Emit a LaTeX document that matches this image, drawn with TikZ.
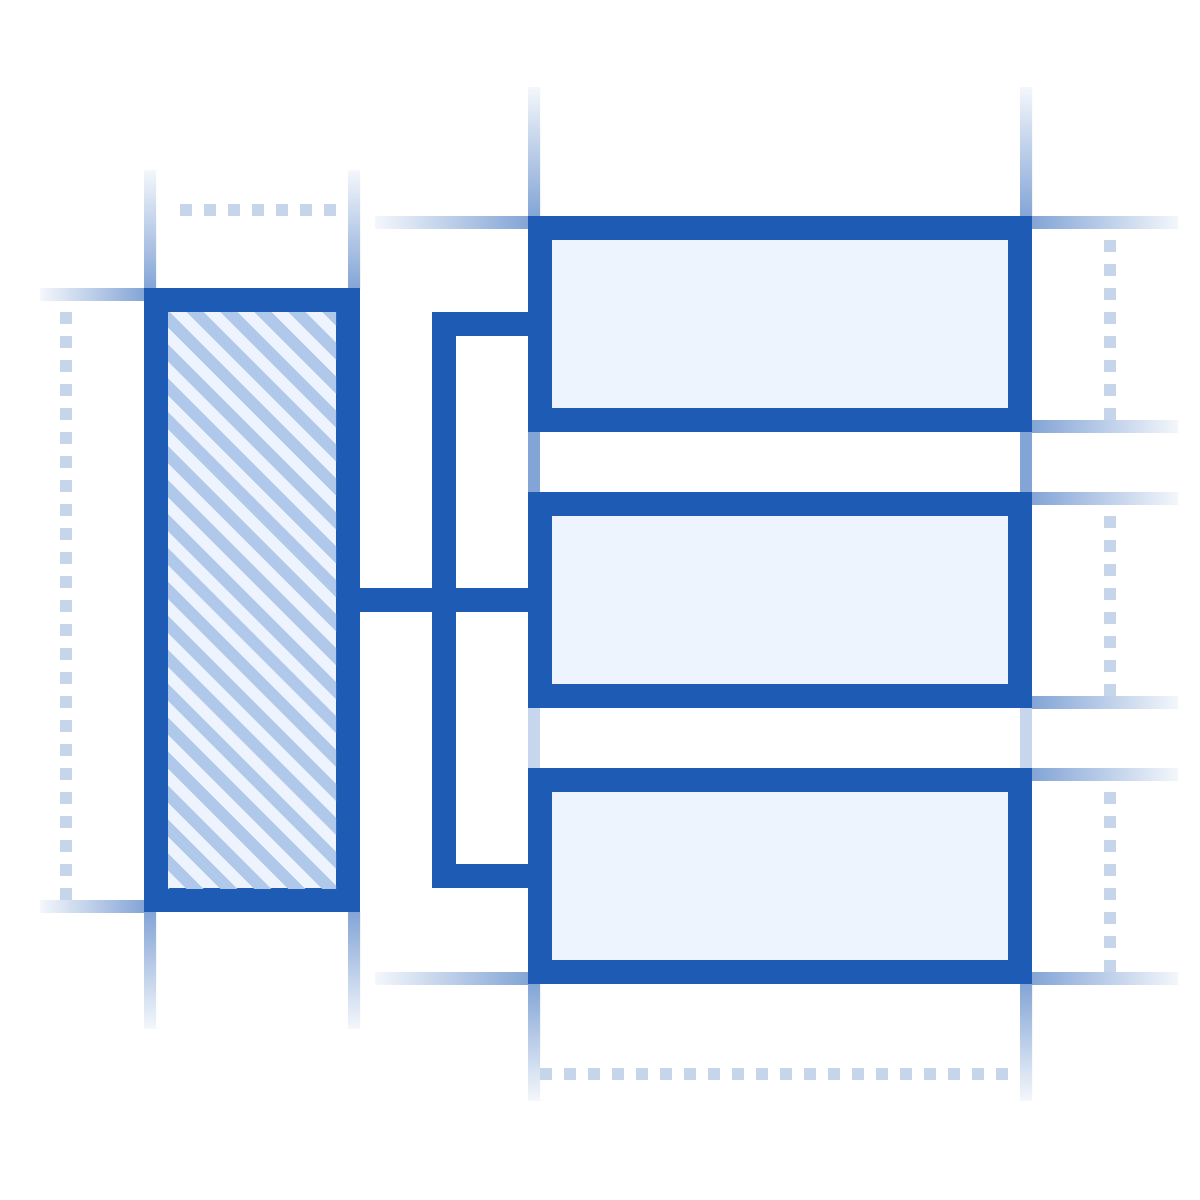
\documentclass[tikz,border=0pt]{standalone}
\definecolor{mainblue}{HTML}{1E5BB4}
\definecolor{boxfill}{HTML}{EEF4FD}
\definecolor{hatchdark}{HTML}{B0C8EA}
\definecolor{dotcol}{HTML}{C5D5EA}
\colorlet{gnear}{mainblue!55!white}
\colorlet{gfar}{mainblue!5!white}
\colorlet{gmidA}{mainblue!55!white}
\colorlet{gmidB}{mainblue!25!white}
\begin{document}
\begin{tikzpicture}[x=0.02cm,y=-0.02cm,
  rbox/.style={rectangle, draw=mainblue, line width=0.48cm, fill=boxfill, inner sep=0pt, minimum width=9.6cm, minimum height=3.84cm},
  lbox/.style={rectangle, draw=mainblue, line width=0.48cm, fill=boxfill, inner sep=0pt, minimum width=3.84cm, minimum height=12cm},
  conn/.style={draw=mainblue, line width=0.48cm, line cap=butt, line join=miter},
  dotline/.style={draw=dotcol, line width=0.24cm, line cap=butt, dash pattern=on 0.24cm off 0.24cm},
  hatchline/.style={draw=hatchdark, line width=0.24cm}
]
\fill[white] (0,0) rectangle (1200,1200);
\useasboundingbox (0,0) rectangle (1200,1200);

% guides: left box
\shade[top color=gfar, bottom color=gnear] (144,170) rectangle (156,288);
\shade[top color=gfar, bottom color=gnear] (348,170) rectangle (360,288);
\shade[top color=gnear, bottom color=gfar] (144,912) rectangle (156,1028);
\shade[top color=gnear, bottom color=gfar] (348,912) rectangle (360,1028);
\shade[left color=gfar, right color=gnear] (40,288) rectangle (144,300);
\shade[left color=gfar, right color=gnear] (40,900) rectangle (144,912);

% guides: right boxes
\shade[top color=gfar, bottom color=gnear] (528,87) rectangle (540,216);
\shade[top color=gfar, bottom color=gnear] (1020,87) rectangle (1032,216);
\shade[top color=gnear, bottom color=gfar] (528,984) rectangle (540,1100);
\shade[top color=gnear, bottom color=gfar] (1020,984) rectangle (1032,1100);
\fill[gmidA] (528,432) rectangle (540,492);
\fill[gmidA] (1020,432) rectangle (1032,492);
\fill[gmidB] (528,708) rectangle (540,768);
\fill[gmidB] (1020,708) rectangle (1032,768);
\shade[left color=gfar, right color=gnear] (375,216) rectangle (528,228);
\shade[left color=gfar, right color=gnear] (375,972) rectangle (528,984);
\foreach \yy in {216,420,492,696,768,972}{
  \shade[left color=gnear, right color=gfar] (1032,\yy) rectangle (1178,\yy+12);
}

% dotted dimension lines
\draw[dotline] (180,210) -- (336,210);
\draw[dotline] (66,312) -- (66,900);
\draw[dotline] (1110,240) -- (1110,420);
\draw[dotline] (1110,516) -- (1110,696);
\draw[dotline] (1110,792) -- (1110,972);
\draw[dotline] (540,1074) -- (1008,1074);

% boxes
\node[lbox] (lb) at (252,600) {};
\begin{scope}
  \clip (168,312) rectangle (336,888);
  \foreach \k in {-24,...,1}{
    \draw[hatchline] ({18.8+33.94*\k+200},200) -- ({18.8+33.94*\k+1000},1000);
  }
\end{scope}
\node[rbox] (b1) at (780,324) {};
\node[rbox] (b2) at (780,600) {};
\node[rbox] (b3) at (780,876) {};

% connectors
\draw[conn] (lb.east) -- (b2.west);
\draw[conn] (b1.west) -- ++(-84,0) |- (b3.west);
\end{tikzpicture}
\end{document}
